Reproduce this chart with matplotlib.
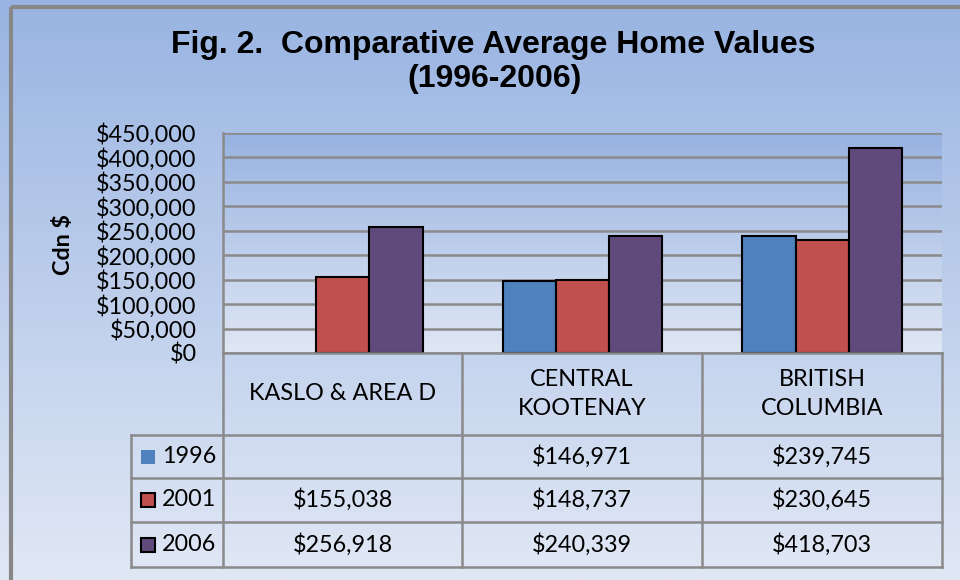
"""Fig. 2 comparative average home values, Excel-style column chart with data table."""

import matplotlib

matplotlib.use("Agg")

import matplotlib.pyplot as plt
import numpy as np
from matplotlib.colors import LinearSegmentedColormap
from matplotlib.patches import Rectangle
from matplotlib.ticker import FuncFormatter, MultipleLocator

regions = ["KASLO & AREA D", "CENTRAL\nKOOTENAY", "BRITISH\nCOLUMBIA"]
years = ["1996", "2001", "2006"]
values_1996 = [np.nan, 146971, 239745]
values_2001 = [155038, 148737, 230645]
values_2006 = [256918, 240339, 418703]
colors = ["#4f81bd", "#c0504d", "#604a7b"]

W, H = 960, 580
BODY = "Lato"
FS = 16.8
GRID = "#8a8a8a"

fig = plt.figure(figsize=(W / 100, H / 100), dpi=100)

# chart background gradient
bg = fig.add_axes([0, 0, 1, 1], zorder=0)
bg_cmap = LinearSegmentedColormap.from_list("bg", ["#99b4e2", "#e1e8f5"])
bg.imshow(np.linspace(0, 1, 256).reshape(-1, 1), cmap=bg_cmap, aspect="auto",
          extent=[0, 1, 0, 1], origin="upper")
bg.set_xlim(0, 1)
bg.set_ylim(0, 1)
bg.axis("off")


def px_box(x0, y0, x1, y1):
    return [x0 / W, 1 - y1 / H, (x1 - x0) / W, (y1 - y0) / H]


# plot area
ax = fig.add_axes(px_box(223, 133, 942, 353), zorder=2)
ax.set_facecolor("none")
pa_cmap = LinearSegmentedColormap.from_list("pa", ["#97b2e1", "#e0e7f4"])
ax.imshow(np.linspace(0, 1, 256).reshape(-1, 1), cmap=pa_cmap, aspect="auto",
          extent=[-0.5, 2.5, 0, 450000], origin="upper", zorder=0)

x = np.arange(len(regions))
bw = 0.222
for i, (vals, col) in enumerate(zip([values_1996, values_2001, values_2006], colors)):
    ax.bar(x + (i - 1) * bw, vals, width=bw, color=col, edgecolor="black",
           linewidth=1.5, zorder=3)

ax.set_xlim(-0.5, 2.5)
ax.set_ylim(0, 450000)
ax.yaxis.set_major_locator(MultipleLocator(50000))
ax.yaxis.set_major_formatter(FuncFormatter(lambda v, _: f"${v:,.0f}"))
ax.set_xticks([])
ax.tick_params(axis="y", length=0, pad=19, labelsize=FS)
for lab in ax.get_yticklabels():
    lab.set_fontfamily(BODY)
ax.yaxis.grid(True, color=GRID, linewidth=1.8, zorder=1)
ax.set_axisbelow(True)
for side in ["top", "right", "bottom"]:
    ax.spines[side].set_visible(False)
ax.spines["left"].set_color(GRID)
ax.spines["left"].set_linewidth(1.8)

# overlay in pixel coordinates for title, table and border
ov = fig.add_axes([0, 0, 1, 1], zorder=3)
ov.set_xlim(0, W)
ov.set_ylim(H, 0)
ov.axis("off")

ov.text(493, 45, "Fig. 2.  Comparative Average Home Values", ha="center", va="center",
        fontsize=23, fontweight="bold", family="Liberation Sans")
ov.text(495, 79, "(1996-2006)", ha="center", va="center",
        fontsize=23, fontweight="bold", family="Liberation Sans")
ov.text(63, 245, "Cdn $", rotation=90, ha="center", va="center",
        fontsize=FS, fontweight="bold", family=BODY)

# data table
col_x = [223, 462, 702, 942]
row_y = [353, 435, 478, 522, 567]
lab_x0 = 131
lw = 1.8
ov.plot([col_x[0], col_x[-1]], [row_y[0], row_y[0]], color=GRID, lw=lw)
for yy in row_y[1:]:
    ov.plot([lab_x0, col_x[-1]], [yy, yy], color=GRID, lw=lw)
for xx in col_x:
    ov.plot([xx, xx], [row_y[0], row_y[-1]], color=GRID, lw=lw)
ov.plot([lab_x0, lab_x0], [row_y[1], row_y[-1]], color=GRID, lw=lw)

for j, name in enumerate(regions):
    cx = (col_x[j] + col_x[j + 1]) / 2
    ov.text(cx, (row_y[0] + row_y[1]) / 2, name, ha="center", va="center",
            fontsize=FS, family=BODY, linespacing=1.5)

for i, (yr, vals, col) in enumerate(zip(years, [values_1996, values_2001, values_2006], colors)):
    cy = (row_y[i + 1] + row_y[i + 2]) / 2
    ov.add_patch(Rectangle((141, cy - 7), 14, 14, facecolor=col,
                           edgecolor="none" if i == 0 else "black", lw=1.5))
    ov.text(162, cy, yr, ha="left", va="center", fontsize=FS, family=BODY)
    for j, v in enumerate(vals):
        if np.isnan(v):
            continue
        cx = (col_x[j] + col_x[j + 1]) / 2
        ov.text(cx, cy, f"${v:,.0f}", ha="center", va="center", fontsize=FS, family=BODY)

# outer chart border (top and left edges visible)
ov.plot([11, W], [7, 7], color="#878787", lw=3, solid_capstyle="butt")
ov.plot([11, 11], [7, H], color="#878787", lw=3, solid_capstyle="butt")

fig.savefig("out.png", dpi=100)
